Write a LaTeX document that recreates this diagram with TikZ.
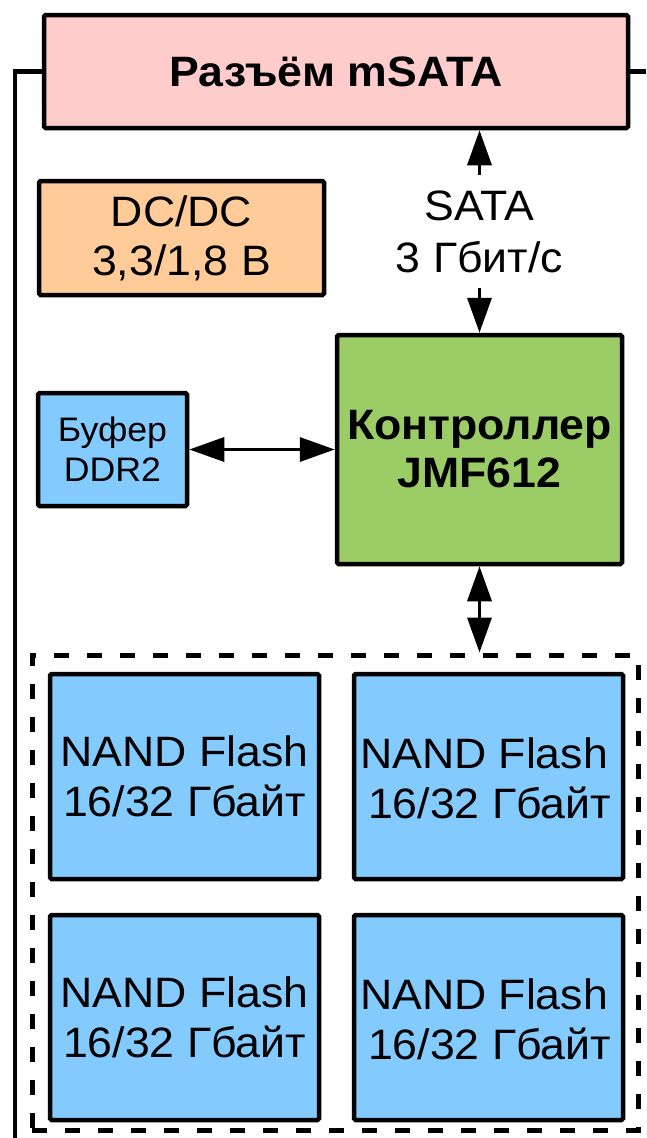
\documentclass[tikz,border=0pt]{standalone}
\usepackage{fontspec}
\setmainfont{Liberation Sans}[FakeStretch=1.05]
\usetikzlibrary{arrows.meta}
\definecolor{pinkbox}{RGB}{255,204,204}
\definecolor{peachbox}{RGB}{255,204,153}
\definecolor{greenbox}{RGB}{155,204,102}
\definecolor{bluebox}{RGB}{131,202,255}
\tikzset{
  blk/.style={draw=black, line width=4.5pt, rounded corners=1.5pt, inner sep=0pt, align=center, anchor=center},
  bigtxt/.style={font=\fontsize{42.5}{50}\selectfont},
  boldtxt/.style={font=\fontsize{42.5}{48}\selectfont\bfseries},
  link/.style={line width=3.5pt, {Triangle[length=35pt,width=24pt]}-{Triangle[length=35pt,width=24pt]}},
  wire/.style={line width=4.5pt},
}
\begin{document}
\begin{tikzpicture}[x=1pt,y=-1pt]
\useasboundingbox (0,0) rectangle (646,1138);
\node[blk, fill=pinkbox, minimum width=584pt, minimum height=113pt, boldtxt] (msata) at (336,71.5) {Разъём mSATA};
\node[blk, fill=peachbox, minimum width=285pt, minimum height=114pt, font=\fontsize{42.5}{49}\selectfont] (dcdc) at (181.5,238) {DC/DC\\3,3/1,8 В};
\node[blk, fill=bluebox, minimum width=149pt, minimum height=113pt, font=\fontsize{34}{40}\selectfont] (buf) at (112.5,449.5) {Буфер\\DDR2};
\node[blk, fill=greenbox, minimum width=285pt, minimum height=229pt, boldtxt] (ctrl) at (479.5,449.5) {Контроллер\\JMF612};
\node[draw=black, line width=5pt, dash pattern=on 15pt off 18pt, minimum width=606pt, minimum height=475pt, inner sep=0pt] (flash) at (335,892.5) {};
\node[blk, fill=bluebox, minimum width=269pt, minimum height=205pt, bigtxt] (n1) at (184.5,776.5) {NAND Flash\\16/32 Гбайт};
\node[blk, fill=bluebox, minimum width=269pt, minimum height=205pt, bigtxt] (n2) at (488.5,776.5) {\strut};
\node[bigtxt, align=left, inner sep=0pt] (t2) at (485.5,778) {NAND Flash\\\hspace{8pt}16/32 Гбайт};
\node[blk, fill=bluebox, minimum width=269pt, minimum height=205pt, bigtxt] (n3) at (184.5,1017.5) {NAND Flash\\16/32 Гбайт};
\node[blk, fill=bluebox, minimum width=269pt, minimum height=205pt, bigtxt] (n4) at (488.5,1017.5) {\strut};
\node[bigtxt, align=left, inner sep=0pt] (t4) at (485.5,1019) {NAND Flash\\\hspace{8pt}16/32 Гбайт};
% wires
\coordinate (lb) at (15,1138);
\coordinate (re) at (646,71.5);
\draw[wire] (msata.west) -| (lb);
\draw[wire] (msata.east) -- (re);
% links
\draw[link] (ctrl.north |- msata.south) -- node[fill=white, inner sep=0pt, minimum height=113pt, align=center, font=\fontsize{42.5}{52}\selectfont] (sata) {SATA\\3 Гбит/с} (ctrl.north);
\draw[link] (buf.east) -- (buf.east -| ctrl.west);
\draw[link] (ctrl.south) -- (ctrl.south |- flash.north);
\end{tikzpicture}
\end{document}
